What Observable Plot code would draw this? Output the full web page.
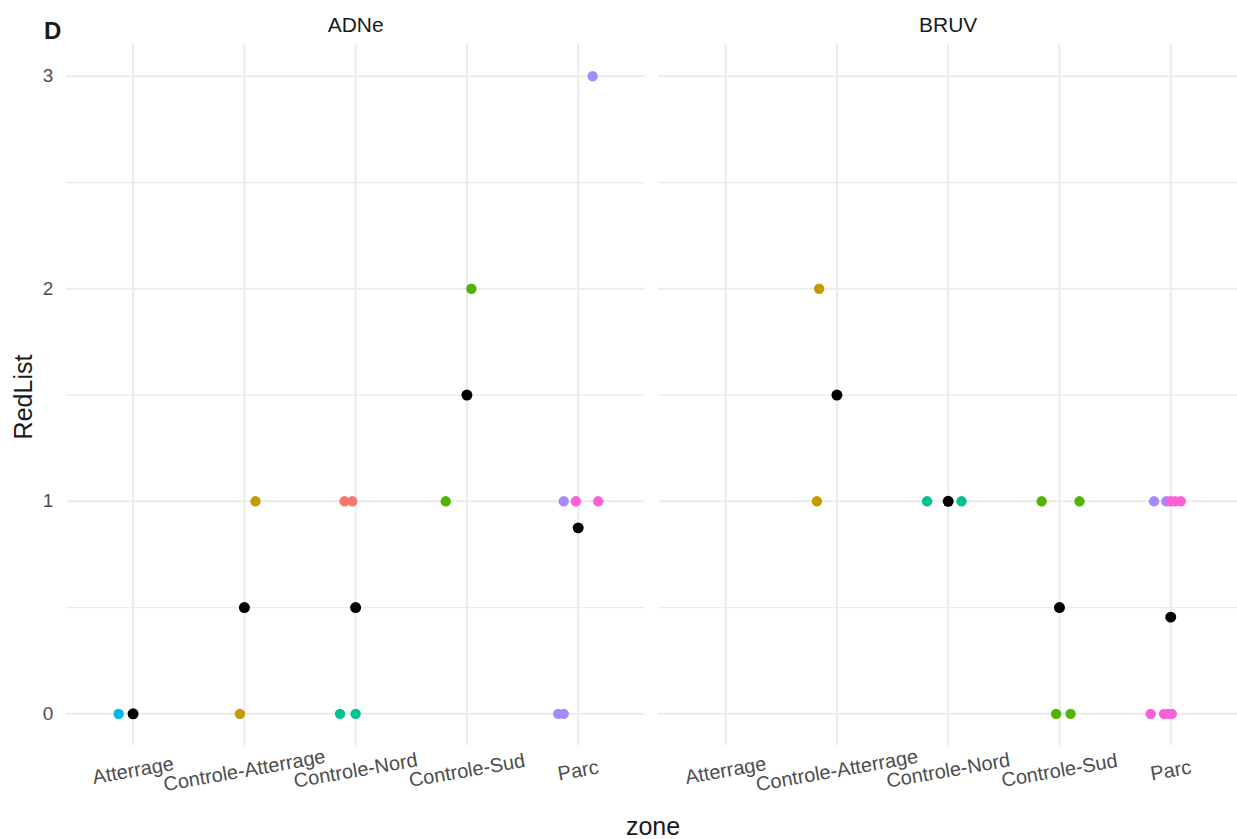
<!DOCTYPE html>
<html><head><meta charset="utf-8">
<script src="https://cdn.jsdelivr.net/npm/d3@7"></script>
<script src="https://cdn.jsdelivr.net/npm/@observablehq/plot@0.6"></script>
<style>
html,body{margin:0;padding:0;background:#fff;overflow:hidden}
#wrap{position:relative;width:1237px;height:839px;overflow:hidden;font-family:"Liberation Sans",Arial,sans-serif}
#wrap svg{position:absolute;left:0;top:0}
.ov{position:absolute;white-space:nowrap}
#tag{left:44px;top:17px;font-size:24px;font-weight:bold;color:#1a1a1a}
#ylab{left:23px;top:397px;font-size:25px;color:#1a1a1a;transform:translate(-50%,-50%) rotate(-90deg)}
#xlab{left:653px;top:826px;font-size:25px;color:#1a1a1a;transform:translate(-50%,-50%)}
</style></head><body><div id="wrap"></div>
<script>
// ---- data ----
const zones = ["Atterrage", "Controle-Atterrage", "Controle-Nord", "Controle-Sud", "Parc"];
const methods = ["ADNe", "BRUV"];
const groups = ["g1", "g2", "g3", "g4", "g5", "g6", "g7"];
const groupColors = ["#F8766D", "#C49A00", "#53B400", "#00C094", "#00B6EB", "#A58AFF", "#FB61D7"];

// individual observations
const obsMethod = ["ADNe","ADNe","ADNe","ADNe","ADNe","ADNe","ADNe","ADNe","ADNe","ADNe","ADNe","ADNe","ADNe","ADNe","ADNe",
  "BRUV","BRUV","BRUV","BRUV","BRUV","BRUV","BRUV","BRUV","BRUV","BRUV","BRUV","BRUV","BRUV","BRUV","BRUV","BRUV","BRUV"];
const obsZone = ["Atterrage","Controle-Atterrage","Controle-Atterrage","Controle-Nord","Controle-Nord","Controle-Nord","Controle-Nord",
  "Controle-Sud","Controle-Sud","Parc","Parc","Parc","Parc","Parc","Parc",
  "Controle-Atterrage","Controle-Atterrage","Controle-Nord","Controle-Nord","Controle-Sud","Controle-Sud","Controle-Sud","Controle-Sud",
  "Parc","Parc","Parc","Parc","Parc","Parc","Parc","Parc","Parc"];
const obsGroup = ["g5","g2","g2","g1","g1","g4","g4","g3","g3","g6","g6","g7","g7","g6","g6",
  "g2","g2","g4","g4","g3","g3","g3","g3","g6","g6","g7","g7","g7","g7","g7","g7","g7"];
const obsRedList = [0,1,0,1,1,0,0,2,1,3,1,1,1,0,0,
  2,1,1,1,1,1,0,0,1,1,1,1,1,0,0,0,0];
// horizontal jitter (in category units) as seen in the picture
const obsJitter = [-0.13,0.10,-0.04,-0.10,-0.03,-0.14,0.00,0.04,-0.19,0.13,-0.13,-0.02,0.18,-0.18,-0.13,
  -0.16,-0.18,-0.19,0.12,-0.16,0.18,-0.03,0.10,-0.15,-0.04,0.00,0.04,0.09,-0.18,-0.06,-0.02,0.01];

// means per zone (black points)
const meanMethod = ["ADNe","ADNe","ADNe","ADNe","ADNe","BRUV","BRUV","BRUV","BRUV"];
const meanZone = ["Atterrage","Controle-Atterrage","Controle-Nord","Controle-Sud","Parc",
  "Controle-Atterrage","Controle-Nord","Controle-Sud","Parc"];
const meanRedList = [0,0.5,0.5,1.5,0.875,1.5,1,0.5,0.455];

const yTicks = [0,1,2,3];
const yMinor = [0.5,1.5,2.5];

// ---- build tables ----
const obs = obsMethod.map((m,i)=>({method:m, zi:zones.indexOf(obsZone[i]) + obsJitter[i], group:obsGroup[i], v:obsRedList[i]}));
const means = meanMethod.map((m,i)=>({method:m, zi:zones.indexOf(meanZone[i]), v:meanRedList[i]}));
const zoneIdx = zones.map((z,i)=>i);
const font = '"Liberation Sans", Arial, sans-serif';

const plot = Plot.plot({
  width: 1240, height: 839,
  marginLeft: 66, marginRight: 0, marginTop: 44, marginBottom: 92,
  style: {fontFamily: font, background: "#fff"},
  fx: {domain: methods, paddingInner: 0.0236, paddingOuter: 0, label: null},
  x: {domain: [-0.6, 4.6], axis: null},
  y: {domain: [-0.15, 3.15], axis: null},
  color: {domain: groups, range: groupColors},
  marks: [
    Plot.gridY(yMinor, {stroke: "#ebebeb", strokeOpacity: 1, strokeWidth: 1.2}),
    Plot.gridY(yTicks, {stroke: "#ebebeb", strokeOpacity: 1, strokeWidth: 2}),
    Plot.gridX(zoneIdx, {stroke: "#ebebeb", strokeOpacity: 1, strokeWidth: 2}),
    Plot.axisFx({anchor: "top", tickSize: 0, tickPadding: 12, fontSize: 21, color: "#1a1a1a", label: null}),
    Plot.axisY(yTicks, {anchor: "left", tickSize: 0, tickPadding: 13, fontSize: 19, color: "#4d4d4d", label: null, tickFormat: d3.format("d")}),
    Plot.text(zones, {x: (d,i)=>i, frameAnchor: "bottom", dy: 25, rotate: -10, fontSize: 20, fill: "#4d4d4d", textAnchor: "middle", lineAnchor: "middle"}),
    Plot.dot(obs, {fx: "method", x: "zi", y: "v", fill: "group", r: 5.2, stroke: "none"}),
    Plot.dot(means, {fx: "method", x: "zi", y: "v", fill: "black", r: 5.5, stroke: "none"})
  ]
});
const wrap = document.getElementById("wrap");
wrap.appendChild(plot);
for (const [id, t] of [["tag","D"],["ylab","RedList"],["xlab","zone"]]) {
  const d = document.createElement("div"); d.className = "ov"; d.id = id; d.textContent = t; wrap.appendChild(d);
}
</script></body></html>
